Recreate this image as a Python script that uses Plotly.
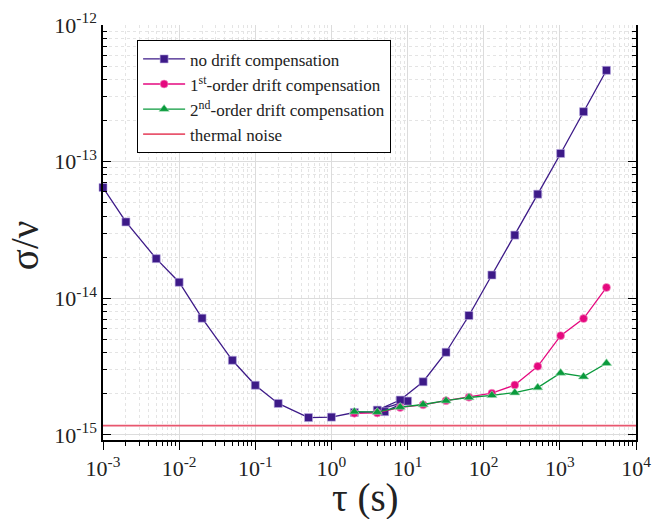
import plotly.graph_objects as go

# ---- data ----
tau_nodrift = [1e-3, 2e-3, 5e-3, 1e-2, 2e-2, 5e-2, 0.1, 0.2, 0.5, 1, 2, 5, 10,
               4, 8, 16, 32, 64, 128, 256, 512, 1024, 2048, 4096]
sig_nodrift = [6.47e-14, 3.62e-14, 1.95e-14, 1.31e-14, 7.15e-15, 3.52e-15, 2.31e-15,
               1.70e-15, 1.34e-15, 1.35e-15, 1.46e-15, 1.48e-15, 1.77e-15,
               1.52e-15, 1.80e-15, 2.45e-15, 4.03e-15, 7.48e-15, 1.48e-14,
               2.90e-14, 5.78e-14, 1.148e-13, 2.32e-13, 4.66e-13]

tau_comp = [2, 4, 8, 16, 32, 64, 128, 256, 512, 1024, 2048, 4096]
sig_first = [1.44e-15, 1.45e-15, 1.59e-15, 1.66e-15, 1.78e-15, 1.89e-15,
             2.02e-15, 2.32e-15, 3.18e-15, 5.33e-15, 7.10e-15, 1.20e-14]
sig_second = [1.48e-15, 1.47e-15, 1.60e-15, 1.67e-15, 1.78e-15, 1.88e-15,
              1.95e-15, 2.04e-15, 2.22e-15, 2.84e-15, 2.67e-15, 3.35e-15]

thermal_noise = 1.17e-15
tau_limits = [1e-3, 1e4]

x_exponents = [-3, -2, -1, 0, 1, 2, 3, 4]
y_exponents = [-15, -14, -13, -12]
minor_digits = [2, 3, 4, 5, 6, 7, 8, 9]

x_title = "τ (s)"
y_title = "σ/ν"

names = ["no drift compensation",
         "1<sup>st</sup>-order drift compensation",
         "2<sup>nd</sup>-order drift compensation",
         "thermal noise"]

PURPLE = "#3d1a88"
PINK = "#e5097f"
GREEN = "#0a9a3c"
RED = "#e8566e"
FONT = "Times New Roman, Liberation Serif, serif"


def pow_labels(exps):
    return ["10<sup>%d</sup>" % e for e in exps]


def major_vals(exps):
    return [10.0 ** e for e in exps]


def minor_vals(exps):
    return [d * 10.0 ** e for e in exps[:-1] for d in minor_digits]


fig = go.Figure()
fig.add_trace(go.Scatter(x=tau_nodrift, y=sig_nodrift, mode="lines+markers", name=names[0],
                         cliponaxis=False,
                         line=dict(color=PURPLE, width=1.3),
                         marker=dict(symbol="square", size=8, color=PURPLE,
                                     line=dict(color="#b9a9e0", width=0.6))))
fig.add_trace(go.Scatter(x=tau_comp, y=sig_first, mode="lines+markers", name=names[1],
                         line=dict(color=PINK, width=1.3),
                         marker=dict(symbol="circle", size=8, color=PINK,
                                     line=dict(color="#f5a3cc", width=0.6))))
fig.add_trace(go.Scatter(x=tau_comp, y=sig_second, mode="lines+markers", name=names[2],
                         line=dict(color=GREEN, width=1.3),
                         marker=dict(symbol="triangle-up", size=9, color=GREEN,
                                     line=dict(color="#9fdcb3", width=0.6))))
fig.add_trace(go.Scatter(x=tau_limits, y=[thermal_noise] * len(tau_limits), mode="lines",
                         name=names[3], line=dict(color=RED, width=1.8)))

xr = [-3, 4]
yr = [-15.037, -12]

fig.update_layout(
    width=662, height=519,
    margin=dict(l=103, r=26, t=25, b=79),
    paper_bgcolor="white", plot_bgcolor="white",
    font=dict(family=FONT, color="black"),
    showlegend=True,
    legend=dict(x=0.064, y=0.963, xanchor="left", yanchor="top",
                bgcolor="white", bordercolor="black", borderwidth=1,
                font=dict(family=FONT, size=17, color="#222"),
                itemwidth=42, tracegroupgap=0),
    xaxis=dict(type="log", range=xr, tickvals=major_vals(x_exponents),
               ticktext=pow_labels(x_exponents), automargin=False,
               showline=True, linecolor="black", linewidth=1.5, mirror=False,
               ticks="outside", ticklen=8, tickwidth=1.3, tickcolor="black",
               showgrid=True, gridcolor="#dcdcdc", gridwidth=1,
               tickfont=dict(family=FONT, size=22, color="#222"),
               minor=dict(tickvals=minor_vals(x_exponents), ticks="outside", ticklen=4,
                          tickcolor="black", showgrid=True,
                          gridcolor="#e4e4e4", griddash="dot"),
               zeroline=False),
    xaxis2=dict(type="log", range=xr, tickvals=major_vals(x_exponents),
                overlaying="x", side="top", anchor="y",
                showline=True, linecolor="black", linewidth=1.5, automargin=False,
                ticks="inside", ticklen=7, tickwidth=1.3, tickcolor="black",
                showgrid=False, showticklabels=False,
                minor=dict(tickvals=minor_vals(x_exponents), ticks="inside", ticklen=4,
                           tickcolor="black", showgrid=False)),
    yaxis=dict(type="log", range=yr, tickvals=major_vals(y_exponents),
               ticktext=pow_labels(y_exponents), automargin=False,
               showline=True, linecolor="black", linewidth=1.5, mirror="ticks",
               ticks="inside", ticklen=8, tickwidth=1.3, tickcolor="black",
               showgrid=True, gridcolor="#dcdcdc", gridwidth=1,
               tickfont=dict(family=FONT, size=22, color="#222"),
               minor=dict(tickvals=minor_vals(y_exponents), ticks="inside", ticklen=4,
                          tickcolor="black", showgrid=True,
                          gridcolor="#e4e4e4", griddash="dot"),
               zeroline=False),
    annotations=[
        dict(text=x_title, xref="paper", yref="paper", x=0.492, y=-0.14,
             xanchor="center", yanchor="middle", showarrow=False,
             font=dict(family=FONT, size=39, color="#222")),
        dict(text=y_title, xref="paper", yref="paper", x=-0.146, y=0.47,
             xanchor="center", yanchor="middle", showarrow=False, textangle=-90,
             font=dict(family=FONT, size=39, color="#222")),
    ],
)

fig.write_html("out.html")
